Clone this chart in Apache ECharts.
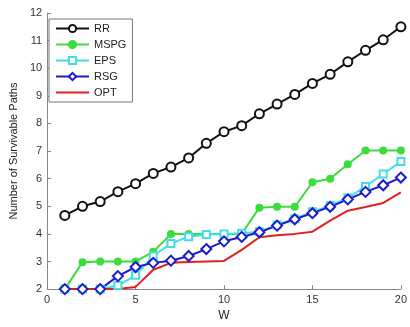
<!DOCTYPE html>
<html><head><meta charset="utf-8">
<script src="https://cdn.jsdelivr.net/npm/echarts@6/dist/echarts.min.js"></script>
<style>html,body{margin:0;padding:0;background:#fff}#c{width:410px;height:327px}</style>
</head><body><div id="c"></div>
<script>
const W = [1,2,3,4,5,6,7,8,9,10,11,12,13,14,15,16,17,18,19,20];
const RR   = [4.67,5.0,5.17,5.53,5.82,6.19,6.42,6.75,7.28,7.7,7.92,8.35,8.7,9.05,9.45,9.78,10.23,10.65,11.03,11.5];
const MSPG = [2.0,2.97,3.0,3.0,3.0,3.35,4.0,4.0,4.0,4.0,4.0,4.95,4.98,4.98,5.87,6.0,6.52,7.02,7.02,7.02];
const EPS  = [2.0,2.0,2.0,2.13,2.5,3.2,3.65,3.9,3.98,4.0,4.02,4.08,4.32,4.55,4.8,5.02,5.3,5.72,6.17,6.62];
const RSG  = [2.0,2.0,2.0,2.47,2.8,2.95,3.03,3.2,3.45,3.73,3.89,4.06,4.3,4.53,4.75,4.98,5.25,5.52,5.76,6.04];
const OPT  = [2.0,2.0,2.0,2.0,2.08,2.7,2.95,2.98,3.0,3.02,3.42,3.88,3.95,4.0,4.08,4.48,4.84,4.97,5.12,5.5];
const xTicks = [0,5,10,15,20];
const yTicks = [2,3,4,5,6,7,8,9,10,11,12];

const pair = arr => W.map((w,i)=>[w,arr[i]]);
const font = 'Liberation Sans, Arial, sans-serif';
const chart = echarts.init(document.getElementById('c'), null, {renderer:'canvas'});
function ser(name, data, color, symbol, size, filled){
  return {
    name, type:'line', data:pair(data), clip:false,
    symbol: symbol, symbolSize: size, showSymbol: symbol!=='none',
    lineStyle:{color, width:2},
    itemStyle:{color: filled?color:'#fff', borderColor:color, borderWidth:2},
    emphasis:{disabled:true}, animation:false
  };
}
chart.setOption({
  animation:false,
  textStyle:{fontFamily:font},
  grid:{left:41, right:7, top:13, bottom:29, containLabel:false},
  legend:{
    orient:'vertical', left:49, top:19, padding:[4,6,4,6],
    itemWidth:33, itemHeight:9, itemGap:5,
    borderColor:'#777', borderWidth:1, backgroundColor:'#fff',
    textStyle:{fontSize:11, color:'#222', fontFamily:font},
    data:['RR','MSPG','EPS','RSG',{name:'OPT', itemStyle:{opacity:0}}]
  },
  xAxis:{
    type:'value', min:0, max:20, interval:5, name:'W',
    nameLocation:'middle', nameGap:16,
    nameTextStyle:{fontSize:12, color:'#222', fontFamily:font},
    axisLine:{show:true, lineStyle:{color:'#888', width:1}},
    axisTick:{show:true, inside:true, length:4, lineStyle:{color:'#888'}},
    axisLabel:{fontSize:11, color:'#333', margin:5, fontFamily:font},
    splitLine:{show:false}
  },
  yAxis:{
    type:'value', min:2, max:12, interval:1,
    name:'Number of Survivable Paths', nameLocation:'middle', nameGap:25,
    nameTextStyle:{fontSize:11, color:'#222', fontFamily:font},
    axisLine:{show:true, lineStyle:{color:'#888', width:1}},
    axisTick:{show:true, inside:true, length:4, lineStyle:{color:'#888'}},
    axisLabel:{fontSize:11, color:'#333', margin:5, fontFamily:font},
    splitLine:{show:false}
  },
  series:[
    ser('RR', RR, '#111111', 'circle', 9, false),
    ser('MSPG', MSPG, '#3ddc3d', 'circle', 6, true),
    ser('EPS', EPS, '#44dde6', 'rect', 7, false),
    ser('RSG', RSG, '#1c1ccc', 'diamond', 10, false),
    ser('OPT', OPT, '#e02020', 'none', 0, false)
  ]
});
</script></body></html>
